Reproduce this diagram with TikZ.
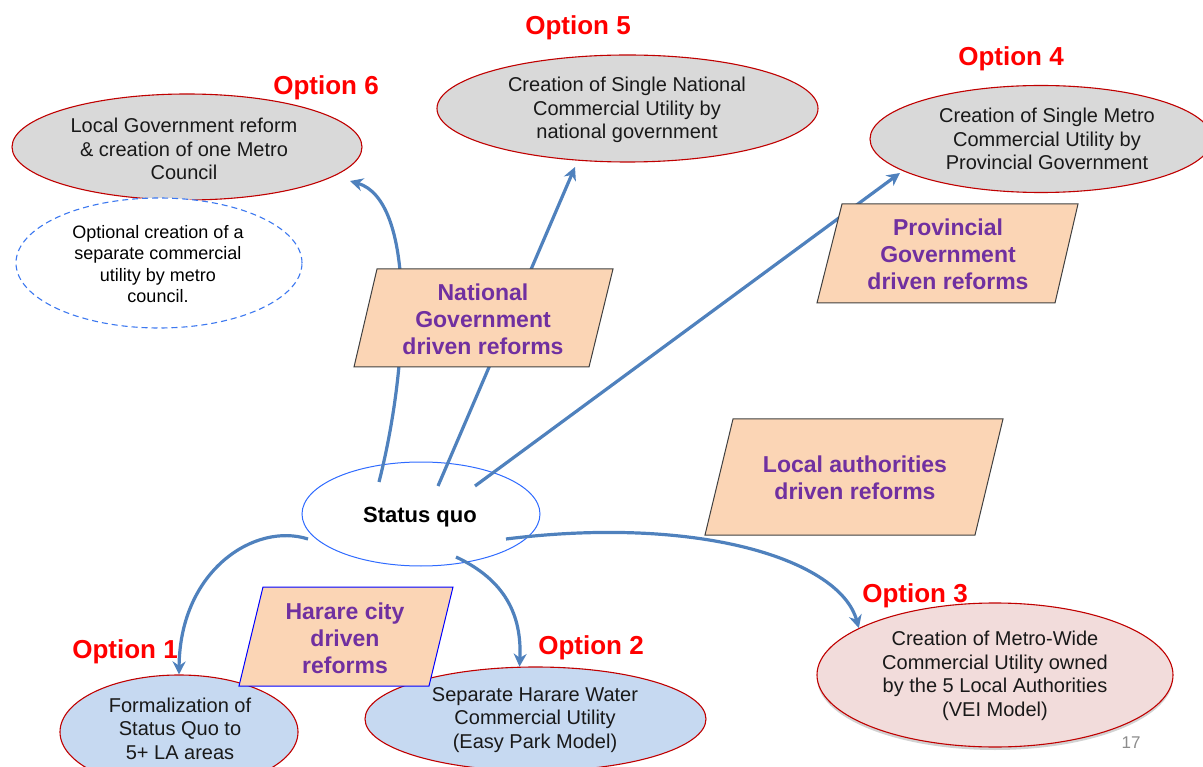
\documentclass[tikz,border=0pt]{standalone}
\usepackage{fontspec}
\setmainfont{Liberation Sans}
\usetikzlibrary{shapes.geometric,arrows.meta,shadows}
\definecolor{optred}{HTML}{FF0000}
\definecolor{rim}{HTML}{C00000}
\definecolor{greyfill}{HTML}{D9D9D9}
\definecolor{bluefill}{HTML}{C6D9F1}
\definecolor{pinkfill}{HTML}{F2DCDB}
\definecolor{peach}{HTML}{FBD5B5}
\definecolor{reformviolet}{HTML}{7030A0}
\definecolor{flow}{HTML}{4F81BD}
\definecolor{sqblue}{HTML}{2F6BFF}
\definecolor{dashblue}{HTML}{3C78F0}

\tikzset{
  oval/.style={ellipse, draw=rim, line width=1.1pt, inner sep=0pt},
  body/.style={font=\fontsize{20}{23.5}\selectfont, align=center, text=black!90, inner sep=0pt},
  smallbody/.style={font=\fontsize{18}{21.5}\selectfont, align=center, text=black, inner sep=0pt},
  tag/.style={font=\bfseries\fontsize{26}{30}\selectfont, text=optred, inner sep=0pt},
  reform/.style={font=\bfseries\fontsize{23}{27}\selectfont, text=reformviolet, align=center, inner sep=0pt},
  slab/.style={fill=peach, draw=black!75, line width=1pt, line join=miter},
  flowarrow/.style={draw=flow, line width=3.2pt, -{Stealth[length=13pt,width=13pt]}},
}

\begin{document}
\begin{tikzpicture}[x=1pt,y=-1pt]
\useasboundingbox (0,0) rectangle (1203,767);
\clip (0,0) rectangle (1203,767);

% outcome ellipses
\node[oval, fill=greyfill, minimum width=350pt, minimum height=106pt] (o6) at (187,147) {};
\node[ellipse, draw=dashblue, dashed, dash pattern=on 6pt off 4pt, line width=1.1pt,
      fill=white, inner sep=0pt, minimum width=286pt, minimum height=130pt] (opt) at (159,263) {};
\node[oval, fill=greyfill, minimum width=381pt, minimum height=107pt] (o5) at (627.5,108.5) {};
\node[oval, fill=greyfill, minimum width=342pt, minimum height=107pt] (o4) at (1041,139) {};
\node[oval, fill=bluefill, minimum width=238pt, minimum height=114pt] (o1) at (179,732) {};
\node[oval, fill=bluefill, minimum width=341pt, minimum height=104pt] (o2) at (535.5,719) {};
\node[oval, fill=pinkfill, minimum width=356pt, minimum height=144pt,
      drop shadow={shadow xshift=0pt, shadow yshift=-3pt, opacity=0.25, fill=black!70}] (o3) at (995,675) {};

% starting point
\node[ellipse, draw=sqblue, line width=1pt, fill=white, inner sep=0pt,
      minimum width=238pt, minimum height=104pt] (sq) at (421,514) {};

% connector ends
\coordinate (s1) at (379,482);
\coordinate (s2) at (438,486);
\coordinate (s3) at (475,486);
\coordinate (s4) at (308,539);
\coordinate (s5) at (456,557);
\coordinate (s6) at (506,539);
\coordinate (e6) at (350,181);
\coordinate (e5) at (575,167);
\coordinate (e4) at (900,173);

% reform paths
\draw[flowarrow] (s1) .. controls (410,360) and (415,200) .. (e6);
\draw[flowarrow] (s2) -- (e5);
\draw[flowarrow] (s3) -- (e4);
\draw[flowarrow] (s4) .. controls (255,522) and (180,570) .. (o1.north);
\draw[flowarrow] (s5) .. controls (505,580) and (522,615) .. (o2.107);
\draw[flowarrow] (s6) .. controls (700,515) and (840,560) .. (o3.161);

% reform drivers
\path[slab] (377,269) -- (613,269) -- (589,367) -- (354,367) -- cycle;
\node[reform] (nat) at (483,319) {National\\Government\\driven reforms};
\path[slab] (842,204) -- (1078,204) -- (1055,303) -- (817,303) -- cycle;
\node[reform] (prov) at (948,254) {Provincial\\Government\\driven reforms};
\path[slab] (733,419) -- (1003,419) -- (975,535) -- (705,535) -- cycle;
\node[reform] (loc) at (855,477.5) {Local authorities\\driven reforms};
\path[slab, draw=blue] (263,587) -- (453,587) -- (429,686) -- (239,686) -- cycle;
\node[reform] (har) at (345,638) {Harare city\\driven\\reforms};

% ellipse texts
\node[body] (o6t) at (184,149) {Local Government reform\\\& creation of one Metro\\Council};
\node[smallbody] (optt) at (158,264) {Optional creation of a\\separate commercial\\utility by metro\\council.};
\node[body] (o5t) at (627,110) {Creation of Single National\\Commercial Utility by\\national government};
\node[body] (o4t) at (1047,139) {Creation of Single Metro\\Commercial Utility by\\Provincial Government};
\node[body] (o1t) at (180,728.5) {Formalization of\\Status Quo to\\5+ LA areas};
\node[body] (o2t) at (535,720) {Separate Harare Water\\Commercial Utility\\(Easy Park Model)};
\node[body] (o3t) at (995,676) {Creation of Metro-Wide\\Commercial Utility owned\\by the 5 Local Authorities\\(VEI Model)};
\node[font=\bfseries\fontsize{22}{26}\selectfont, inner sep=0pt] (sqt) at (420,517) {Status quo};

% option labels
\node[tag] (l6) at (326,88) {Option 6};
\node[tag] (l5) at (578,28) {Option 5};
\node[tag] (l4) at (1011,59) {Option 4};
\node[tag] (l3) at (915,596) {Option 3};
\node[tag] (l1) at (125,652) {Option 1};
\node[tag] (l2) at (591,648) {Option 2};

\node[text=black!45, font=\fontsize{17}{20}\selectfont, inner sep=0pt] (pg) at (1131,743) {17};
\end{tikzpicture}
\end{document}
